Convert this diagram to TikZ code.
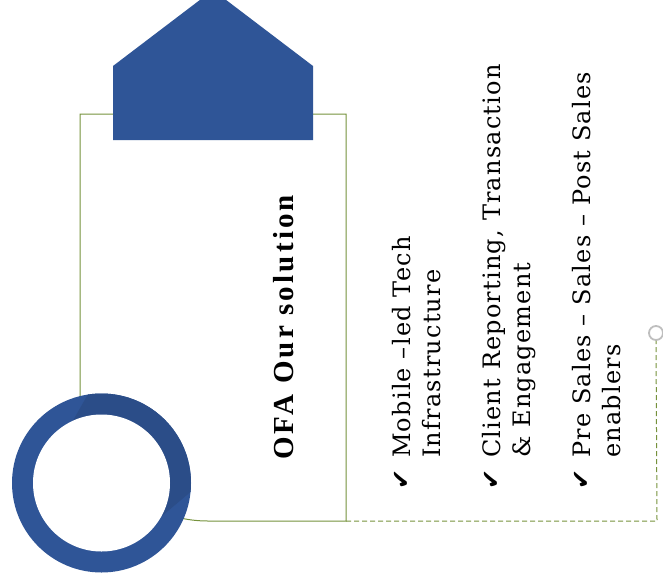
\documentclass[tikz,border=0pt]{standalone}
\usepackage{fontspec}
\setmainfont{Liberation Serif}
\newfontfamily\itemfont{DejaVu Serif}
\newfontfamily\symfont{DejaVu Sans}
\definecolor{accblue}{RGB}{47,85,151}
\definecolor{accdark}{RGB}{43,77,136}
\definecolor{olivebd}{RGB}{118,146,60}
\definecolor{dotgray}{RGB}{190,190,190}
\tikzset{
  itemtext/.style={rotate=90, anchor=base west, inner sep=0pt, font=\itemfont\fontsize{24}{28}\selectfont\addfontfeatures{LetterSpace=5}},
  titletext/.style={rotate=90, anchor=base west, inner sep=0pt, font=\fontsize{29}{32}\selectfont\bfseries\addfontfeatures{LetterSpace=11}},
  checkmark/.style={rotate=90, anchor=base west, inner sep=0pt, font=\symfont\fontsize{24}{26}\selectfont},
  frame/.style={draw=olivebd, line width=1pt},
  connector/.style={draw=olivebd, line width=1pt, dash pattern=on 5pt off 3pt}
}
\begin{document}
\begin{tikzpicture}[x=1pt, y=-1pt]
\useasboundingbox (0,0) rectangle (663,586);
\clip (0,0) rectangle (663,586);
% main frame with large rounded bottom-left corner
\draw[frame, fill=white] (80,114) -- (346,114) -- (346,521) -- (208,521)
  arc[start angle=90, end angle=180, radius=128] -- cycle;
% pentagon tab
\fill[accblue] (113,140) -- (113,66) -- (213,-10) -- (313,66) -- (313,140) -- cycle;
% ring
\fill[accblue] (101.5,483) circle[radius=89.5];
\begin{scope}
\clip (101.5,483) circle[radius=89.5];
\fill[accdark] (62,440) -- (96,380) -- (200,380) -- (200,484) -- (150,526) -- cycle;
\end{scope}
\fill[white] (101.5,483) circle[radius=68.5];
% connector
\coordinate (start) at (346,521);
\node[circle, draw=dotgray, line width=1.8pt, fill=white, minimum size=14pt, inner sep=0pt] (dot) at (656,333) {};
\draw[connector] (start) -- (657,521) -- (dot.south);
% title
\node[titletext] (title) at (293,460) {OFA Our solution};
% bullets
\node[checkmark] (c1) at (409,490) {✔};
\node[itemtext] (t1a) at (410,458) {Mobile –led Tech};
\node[itemtext] (t1b) at (440,458) {Infrastructure};
\node[checkmark] (c2) at (499,490) {✔};
\node[itemtext] (t2a) at (500,458) {Client Reporting, Transaction};
\node[itemtext] (t2b) at (530,458) {\& Engagement};
\node[checkmark] (c3) at (589,490) {✔};
\node[itemtext] (t3a) at (590,458) {Pre Sales – Sales – Post Sales};
\node[itemtext] (t3b) at (620,458) {enablers};
\end{tikzpicture}
\end{document}
